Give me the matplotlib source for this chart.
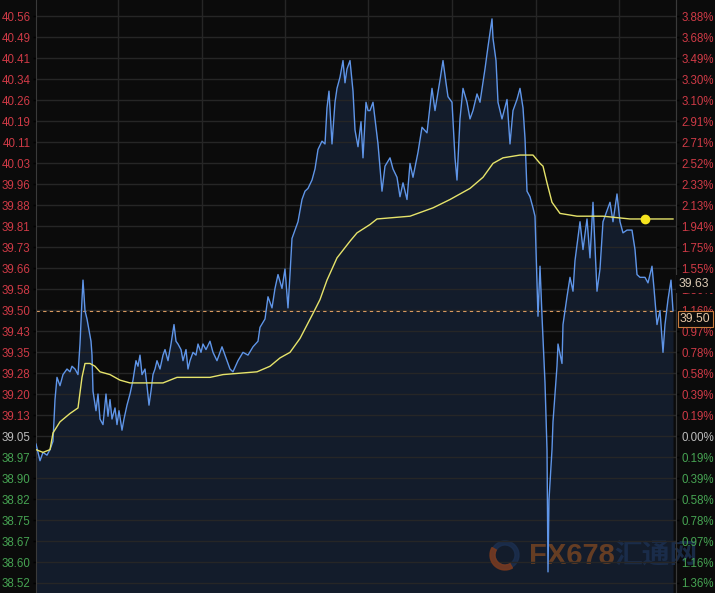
import numpy as np
import matplotlib.pyplot as plt
from matplotlib.patches import Wedge

# intraday price (minutes since open)
minute = [0, 4, 7, 11, 14, 17, 19, 21, 24, 27, 31, 34, 36, 39, 42, 44, 46, 47, 49, 51,
          53, 55, 56, 57, 60, 62, 64, 67, 70, 72, 74, 76, 79, 81, 83, 86, 88, 91, 94, 97,
          100, 102, 104, 106, 109, 111, 113, 115, 117, 119, 121, 124, 127, 129, 132, 135, 138, 140, 142, 145,
          147, 150, 152, 154, 157, 160, 162, 165, 167, 170, 174, 177, 181, 186, 190, 194, 197, 202, 207, 212,
          217, 222, 224, 229, 232, 236, 239, 242, 246, 249, 252, 254, 256, 259, 262, 266, 269, 272, 276, 279,
          282, 286, 289, 291, 293, 296, 299, 301, 304, 307, 309, 311, 314, 317, 319, 322, 325, 327, 330, 332,
          334, 337, 342, 346, 349, 354, 357, 361, 364, 367, 371, 374, 377, 382, 386, 391, 396, 399, 404, 407,
          410, 412, 416, 419, 421, 424, 427, 431, 434, 437, 441, 444, 449, 452, 456, 457, 460, 462, 466, 471,
          474, 477, 481, 484, 487, 489, 491, 494, 497, 499, 501, 502, 504, 506, 509, 511, 512, 513, 516, 517,
          521, 522, 526, 527, 531, 534, 537, 539, 544, 547, 551, 554, 557, 561, 564, 567, 571, 574, 577, 581,
          584, 587, 591, 596, 599, 601, 604, 609, 612, 616, 618, 621, 624, 627, 629, 632, 635, 637]
price = [39.02, 38.96, 38.99, 38.98, 39.00, 39.03, 39.18, 39.26, 39.23, 39.27, 39.29, 39.28, 39.30, 39.29, 39.27, 39.38, 39.54, 39.61, 39.50, 39.47,
         39.43, 39.39, 39.34, 39.21, 39.14, 39.20, 39.11, 39.09, 39.20, 39.12, 39.18, 39.11, 39.15, 39.09, 39.14, 39.07, 39.11, 39.16, 39.20, 39.25,
         39.32, 39.30, 39.34, 39.27, 39.29, 39.23, 39.16, 39.21, 39.27, 39.29, 39.32, 39.29, 39.34, 39.36, 39.32, 39.38, 39.45, 39.39, 39.38, 39.36,
         39.32, 39.36, 39.29, 39.32, 39.35, 39.34, 39.38, 39.35, 39.38, 39.36, 39.39, 39.35, 39.32, 39.37, 39.33, 39.29, 39.28, 39.32, 39.35, 39.34,
         39.37, 39.39, 39.44, 39.47, 39.55, 39.51, 39.58, 39.63, 39.58, 39.65, 39.51, 39.63, 39.76, 39.79, 39.82, 39.90, 39.93, 39.94, 39.97, 40.01,
         40.08, 40.11, 40.10, 40.23, 40.29, 40.10, 40.25, 40.30, 40.34, 40.40, 40.32, 40.37, 40.40, 40.29, 40.15, 40.09, 40.18, 40.05, 40.25, 40.22,
         40.22, 40.25, 40.10, 39.93, 40.02, 40.05, 40.01, 39.98, 39.91, 39.96, 39.90, 40.03, 39.98, 40.07, 40.16, 40.14, 40.30, 40.22, 40.33, 40.40,
         40.32, 40.27, 40.25, 40.05, 39.97, 40.19, 40.30, 40.25, 40.19, 40.22, 40.28, 40.25, 40.37, 40.45, 40.55, 40.48, 40.40, 40.25, 40.19, 40.26,
         40.10, 40.22, 40.26, 40.30, 40.23, 40.12, 39.93, 39.91, 39.87, 39.84, 39.60, 39.48, 39.66, 39.48, 39.24, 39.00, 38.56, 38.82, 39.00, 39.10,
         39.30, 39.38, 39.31, 39.45, 39.55, 39.62, 39.57, 39.68, 39.82, 39.72, 39.83, 39.69, 39.89, 39.57, 39.65, 39.82, 39.86, 39.89, 39.82, 39.92,
         39.82, 39.78, 39.79, 39.79, 39.72, 39.63, 39.62, 39.62, 39.60, 39.66, 39.58, 39.45, 39.50, 39.35, 39.45, 39.54, 39.61, 39.50]

# average price line
avg_minute = [0, 7, 14, 17, 24, 34, 42, 46, 49, 54, 59, 64, 74, 84, 94, 104, 117, 127, 141, 154,
              174, 187, 221, 234, 244, 254, 264, 277, 284, 291, 301, 314, 321, 334, 341, 374, 397, 414, 434, 447,
              457, 467, 484, 497, 504, 507, 511, 516, 524, 541, 567, 594, 609, 637]
avg_price = [39.00, 38.99, 39.00, 39.06, 39.10, 39.13, 39.15, 39.26, 39.31, 39.31, 39.30, 39.28, 39.27, 39.25, 39.24, 39.24, 39.24, 39.24, 39.26, 39.26,
             39.26, 39.27, 39.28, 39.30, 39.33, 39.35, 39.40, 39.49, 39.54, 39.61, 39.69, 39.75, 39.78, 39.81, 39.83, 39.84, 39.87, 39.90, 39.94, 39.98,
             40.03, 40.05, 40.06, 40.06, 40.03, 40.02, 39.96, 39.89, 39.85, 39.84, 39.84, 39.83, 39.83, 39.83]
dot_minute = 609
dot_price = 39.83

prev_close = 39.50
last_price = 39.63

price_labels = ['40.56', '40.49', '40.41', '40.34', '40.26', '40.19', '40.11', '40.03', '39.96', '39.88',
                '39.81', '39.73', '39.66', '39.58', '39.50', '39.43', '39.35', '39.28', '39.20', '39.13',
                '39.05', '38.97', '38.90', '38.82', '38.75', '38.67', '38.60', '38.52']
pct_labels = ['3.88%', '3.68%', '3.49%', '3.30%', '3.10%', '2.91%', '2.71%', '2.52%', '2.33%', '2.13%',
              '1.94%', '1.75%', '1.55%', '1.36%', '1.16%', '0.97%', '0.78%', '0.58%', '0.39%', '0.19%',
              '0.00%', '0.19%', '0.39%', '0.58%', '0.78%', '0.97%', '1.16%', '1.36%']
zero_idx = 20

BG = '#0b0b0b'
GRID = '#262626'
RED = '#cf3a46'
GREEN = '#46a352'
GRAY = '#bdbdbd'
label_colors = [RED if i < zero_idx else (GRAY if i == zero_idx else GREEN) for i in range(len(price_labels))]

plt.rcParams['font.family'] = ['Liberation Sans', 'DejaVu Sans']

fig = plt.figure(figsize=(7.15, 5.93), dpi=100, facecolor=BG)
ax = fig.add_axes([36 / 715, 0, 640 / 715, 1], facecolor=BG)
ymin, ymax = 38.484, 40.618
ax.set_xlim(0, 640)
ax.set_ylim(ymin, ymax)

ticks = np.linspace(40.56, 38.52, len(price_labels))
ax.set_yticks(ticks)
ax.set_yticklabels(price_labels)
ax.grid(axis='y', color=GRID, lw=1)
for v in [82, 166, 249, 332, 416, 500, 583]:
    ax.axvline(v, color=GRID, lw=1, zorder=0.5)
ax.tick_params(axis='x', bottom=False, labelbottom=False)
ax.tick_params(axis='y', length=2, width=1, pad=2, labelsize=8.3)
for sp in ['top', 'bottom']:
    ax.spines[sp].set_visible(False)
for sp in ['left', 'right']:
    ax.spines[sp].set_color('#3a3a3a')

for lab, t, c in zip(ax.get_yticklabels(), ax.yaxis.get_major_ticks(), label_colors):
    lab.set_color(c)
    t.tick1line.set_color(c)

ax2 = ax.twinx()
ax2.set_ylim(ymin, ymax)
ax2.set_yticks(ticks)
ax2.set_yticklabels(pct_labels)
ax2.tick_params(axis='y', length=2, width=1, pad=2, labelsize=8.3)
for sp in ['top', 'bottom', 'left']:
    ax2.spines[sp].set_visible(False)
ax2.spines['right'].set_color('#3a3a3a')
for lab, t, c in zip(ax2.get_yticklabels(), ax2.yaxis.get_major_ticks(), label_colors):
    lab.set_color(c)
    t.tick2line.set_color(c)

# series
ax.fill_between(minute, price, ymin, color='#131c2b', lw=0, zorder=1)

# watermark (behind the lines)
ax.add_patch(Wedge((5.05, 0.38), 0.14, 0, 360, width=0.04, color='#1c3050', alpha=0.8,
                   transform=fig.dpi_scale_trans, zorder=1.5))
ax.add_patch(Wedge((5.05, 0.38), 0.15, 150, 300, width=0.05, color='#7a3a1e', alpha=0.85,
                   transform=fig.dpi_scale_trans, zorder=1.6))
ax.text(529 / 715, 1 - 556 / 593, 'FX678', transform=fig.transFigure, fontsize=21,
        weight='bold', color='#7b4622', alpha=0.8, va='center', ha='left', zorder=1.5)
ax.text(614 / 715, 1 - 556 / 593, '汇通网', transform=fig.transFigure, fontsize=20,
        weight='bold', color='#1c3050', alpha=0.85, va='center', ha='left', zorder=1.5,
        family=['Noto Sans CJK SC', 'DejaVu Sans'])

ax.plot(minute, price, color='#5f95e8', lw=1.0, zorder=3)
ax.plot(avg_minute, avg_price, color='#e6e36a', lw=1.0, zorder=3)
ax.plot([dot_minute], [dot_price], 'o', ms=6, color='#f5e41e', zorder=4)
ax.axhline(prev_close, color='#d89a60', lw=0.8, ls=(0, (3, 3)), zorder=2.5)

# right side price tags
fig.text(679 / 715, 1 - 284 / 593, f'{last_price:.2f}', color='#dccbb5', fontsize=8.7, va='center',
         bbox=dict(boxstyle='square,pad=0.25', fc=BG, ec='none'))
fig.text(680 / 715, 1 - 319 / 593, f'{prev_close:.2f}', color='#e6c7a5', fontsize=8.7, va='center',
         bbox=dict(boxstyle='square,pad=0.2', fc=BG, ec='#c87a3c', lw=0.8))

fig.savefig('out.png', dpi=100, facecolor=BG)
